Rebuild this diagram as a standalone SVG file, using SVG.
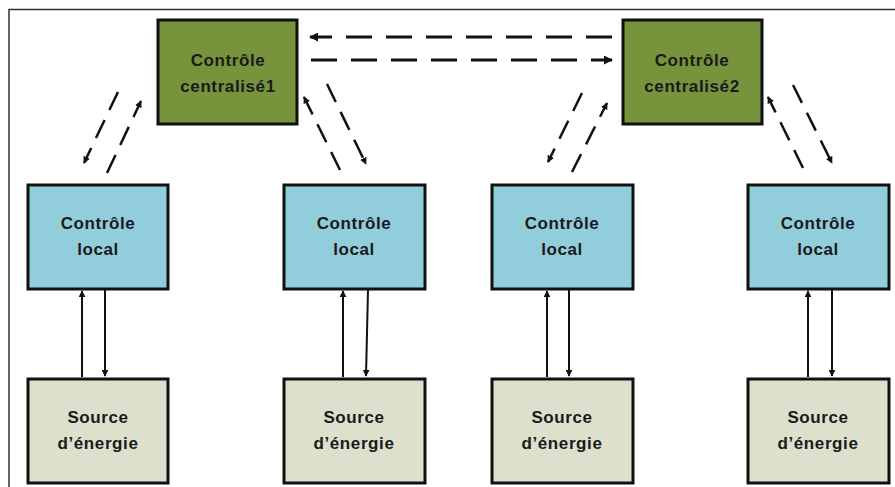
<svg xmlns="http://www.w3.org/2000/svg" width="895" height="487" viewBox="0 0 895 487">
<style>
.box{stroke:#111;stroke-width:3}
.cen{fill:#77933c}
.loc{fill:#92cddc}
.src{fill:#dde0cc}
text{font-family:"Liberation Sans",Arial,sans-serif;font-weight:bold;font-size:17px;fill:#1a1a1a;text-anchor:middle;letter-spacing:0.6px}
.h{stroke:#111;stroke-width:3;fill:none;stroke-dasharray:26 14}
.d{stroke:#111;stroke-width:2.5;fill:none;stroke-dasharray:20 11}
.v{stroke:#111;stroke-width:2;fill:none}
</style>
<defs>
<marker id="ah" viewBox="0 0 10 10" refX="9" refY="5" markerWidth="9" markerHeight="9" markerUnits="userSpaceOnUse" orient="auto">
<path d="M0,0 L10,5 L0,10 z" fill="#111"/>
</marker>
<marker id="ahs" viewBox="0 0 10 10" refX="9" refY="5" markerWidth="7" markerHeight="7" markerUnits="userSpaceOnUse" orient="auto">
<path d="M0,0 L10,5 L0,10 z" fill="#111"/>
</marker>
</defs>
<rect x="0" y="0" width="895" height="487" fill="#fff"/>
<path d="M9,487 V9.5 H895" fill="none" stroke="#333" stroke-width="1.5"/>

<g id="connectors">
<line class="h" x1="612" y1="37" x2="310" y2="37" marker-end="url(#ah)"/>
<line class="h" x1="311" y1="60" x2="612" y2="60" marker-end="url(#ah)"/>

<line class="d" x1="118" y1="92" x2="84" y2="163" marker-end="url(#ahs)"/>
<line class="d" x1="107" y1="173" x2="141" y2="101" marker-end="url(#ahs)"/>
<line class="d" x1="340" y1="170" x2="304" y2="97" marker-end="url(#ahs)"/>
<line class="d" x1="327" y1="84" x2="366" y2="164" marker-end="url(#ahs)"/>

<line class="d" x1="582" y1="93" x2="548" y2="162" marker-end="url(#ahs)"/>
<line class="d" x1="572" y1="172" x2="607" y2="103" marker-end="url(#ahs)"/>
<line class="d" x1="803" y1="168" x2="768" y2="97" marker-end="url(#ahs)"/>
<line class="d" x1="793" y1="85" x2="832" y2="163" marker-end="url(#ahs)"/>

<line class="v" x1="82" y1="377" x2="82" y2="291" marker-end="url(#ahs)"/>
<line class="v" x1="105" y1="290" x2="105" y2="376" marker-end="url(#ahs)"/>
<line class="v" x1="343" y1="377" x2="343" y2="291" marker-end="url(#ahs)"/>
<line class="v" x1="368" y1="290" x2="366" y2="376" marker-end="url(#ahs)"/>
<line class="v" x1="547" y1="377" x2="547" y2="291" marker-end="url(#ahs)"/>
<line class="v" x1="569" y1="290" x2="569" y2="376" marker-end="url(#ahs)"/>
<line class="v" x1="808" y1="377" x2="808" y2="291" marker-end="url(#ahs)"/>
<line class="v" x1="832" y1="290" x2="832" y2="376" marker-end="url(#ahs)"/>
</g>

<g id="central1"><rect class="box cen" x="158" y="20" width="139" height="104"/><text x="228" y="66">Contrôle</text><text x="228" y="92">centralisé1</text></g>
<g id="central2"><rect class="box cen" x="623" y="20" width="139" height="104"/><text x="692" y="66">Contrôle</text><text x="692" y="92">centralisé2</text></g>

<g id="local1"><rect class="box loc" x="28" y="185" width="140" height="104"/><text x="98" y="229">Contrôle</text><text x="98" y="255">local</text></g>
<g id="local2"><rect class="box loc" x="284" y="185" width="141" height="104"/><text x="354" y="229">Contrôle</text><text x="354" y="255">local</text></g>
<g id="local3"><rect class="box loc" x="492" y="185" width="141" height="104"/><text x="562" y="229">Contrôle</text><text x="562" y="255">local</text></g>
<g id="local4"><rect class="box loc" x="748" y="185" width="141" height="104"/><text x="818" y="229">Contrôle</text><text x="818" y="255">local</text></g>

<g id="source1"><rect class="box src" x="28" y="379" width="140" height="104"/><text x="98" y="423">Source</text><text x="98" y="449">d’énergie</text></g>
<g id="source2"><rect class="box src" x="284" y="379" width="141" height="104"/><text x="354" y="423">Source</text><text x="354" y="449">d’énergie</text></g>
<g id="source3"><rect class="box src" x="492" y="379" width="141" height="104"/><text x="562" y="423">Source</text><text x="562" y="449">d’énergie</text></g>
<g id="source4"><rect class="box src" x="748" y="379" width="141" height="104"/><text x="818" y="423">Source</text><text x="818" y="449">d’énergie</text></g>
</svg>
